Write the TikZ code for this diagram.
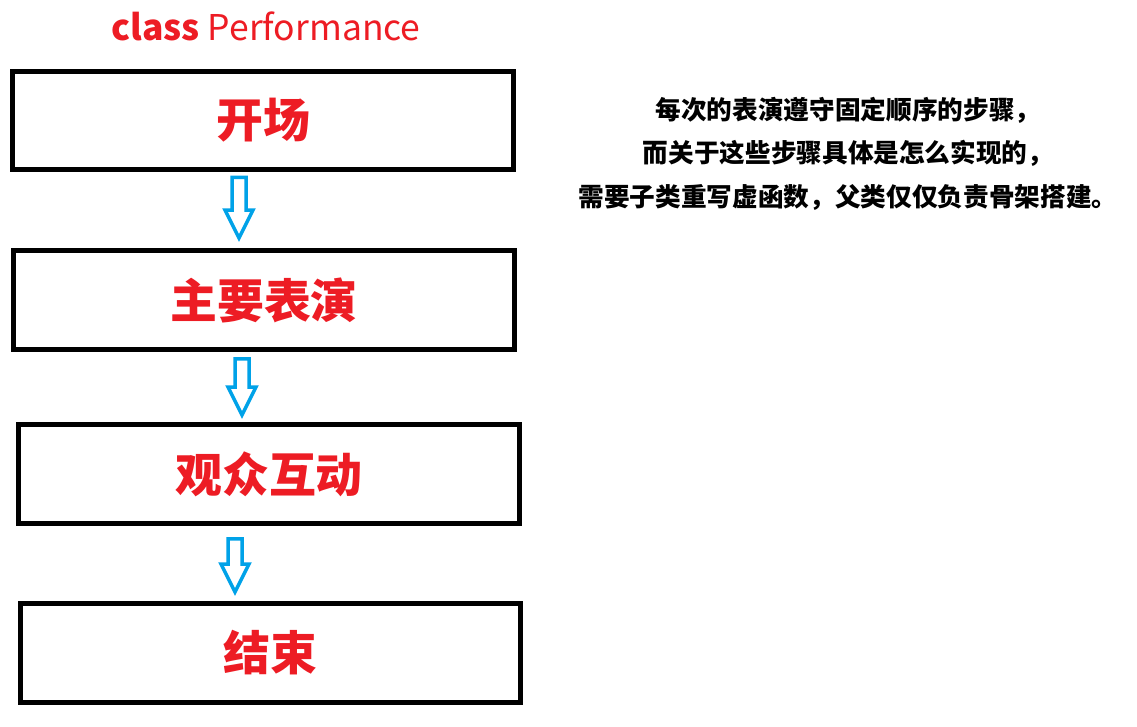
\documentclass[tikz,border=0pt]{standalone}
\usepackage{fontspec}
\setmainfont{Noto Sans CJK SC}
\usetikzlibrary{calc}
\definecolor{stepred}{RGB}{237,28,36}
\definecolor{arrowblue}{RGB}{0,162,232}

\begin{document}
\begin{tikzpicture}[x=0.02cm, y=-0.02cm,
  stagebox/.style={draw=black, line width=0.1cm, minimum width=10.02cm, minimum height=1.98cm, inner sep=0pt, text=stepred, font=\fontsize{26.7}{30}\selectfont\bfseries},
  flowarrow/.style={draw=arrowblue, line width=0.07cm, line join=miter},
  note/.style={align=center, inner sep=0pt, font=\fontsize{14.6}{24.7}\selectfont\bfseries}]
\useasboundingbox (0,0) rectangle (1137,727);

\node[text=stepred, font=\fontsize{20.2}{23}\selectfont] (title) at (266,26) {\textbf{class} Performance};

\node[stagebox] (open) at (263,120.5) {开场};
\node[stagebox] (main) at (264,300) {主要表演};
\node[stagebox] (inter) at (269,474) {观众互动};
\node[stagebox] (close) at (270.5,653) {结束};

\foreach \a/\b/\dx/\s/\e in {open/main/-24/5/10, main/inter/-22/7/7, inter/close/-34/13/9}{
  \coordinate (top) at ($(\a.south)+(\dx,\s)$);
  \coordinate (base) at (top |- \b.north);
  \coordinate (tip) at ($(base)+(0,-\e)$);
  \draw[flowarrow] ($(top)+(-7,0)$) -- ($(top)+(7,0)$) -- ($(tip)+(7,-28)$) -- ($(tip)+(14,-28)$) -- (tip) -- ($(tip)+(-14,-28)$) -- ($(tip)+(-7,-28)$) -- cycle;
}

\node[note] (remark) at (848,153.5) {每次的表演遵守固定顺序的步骤，\\而关于这些步骤具体是怎么实现的，\\需要子类重写虚函数，父类仅仅负责骨架搭建。};
\end{tikzpicture}
\end{document}
